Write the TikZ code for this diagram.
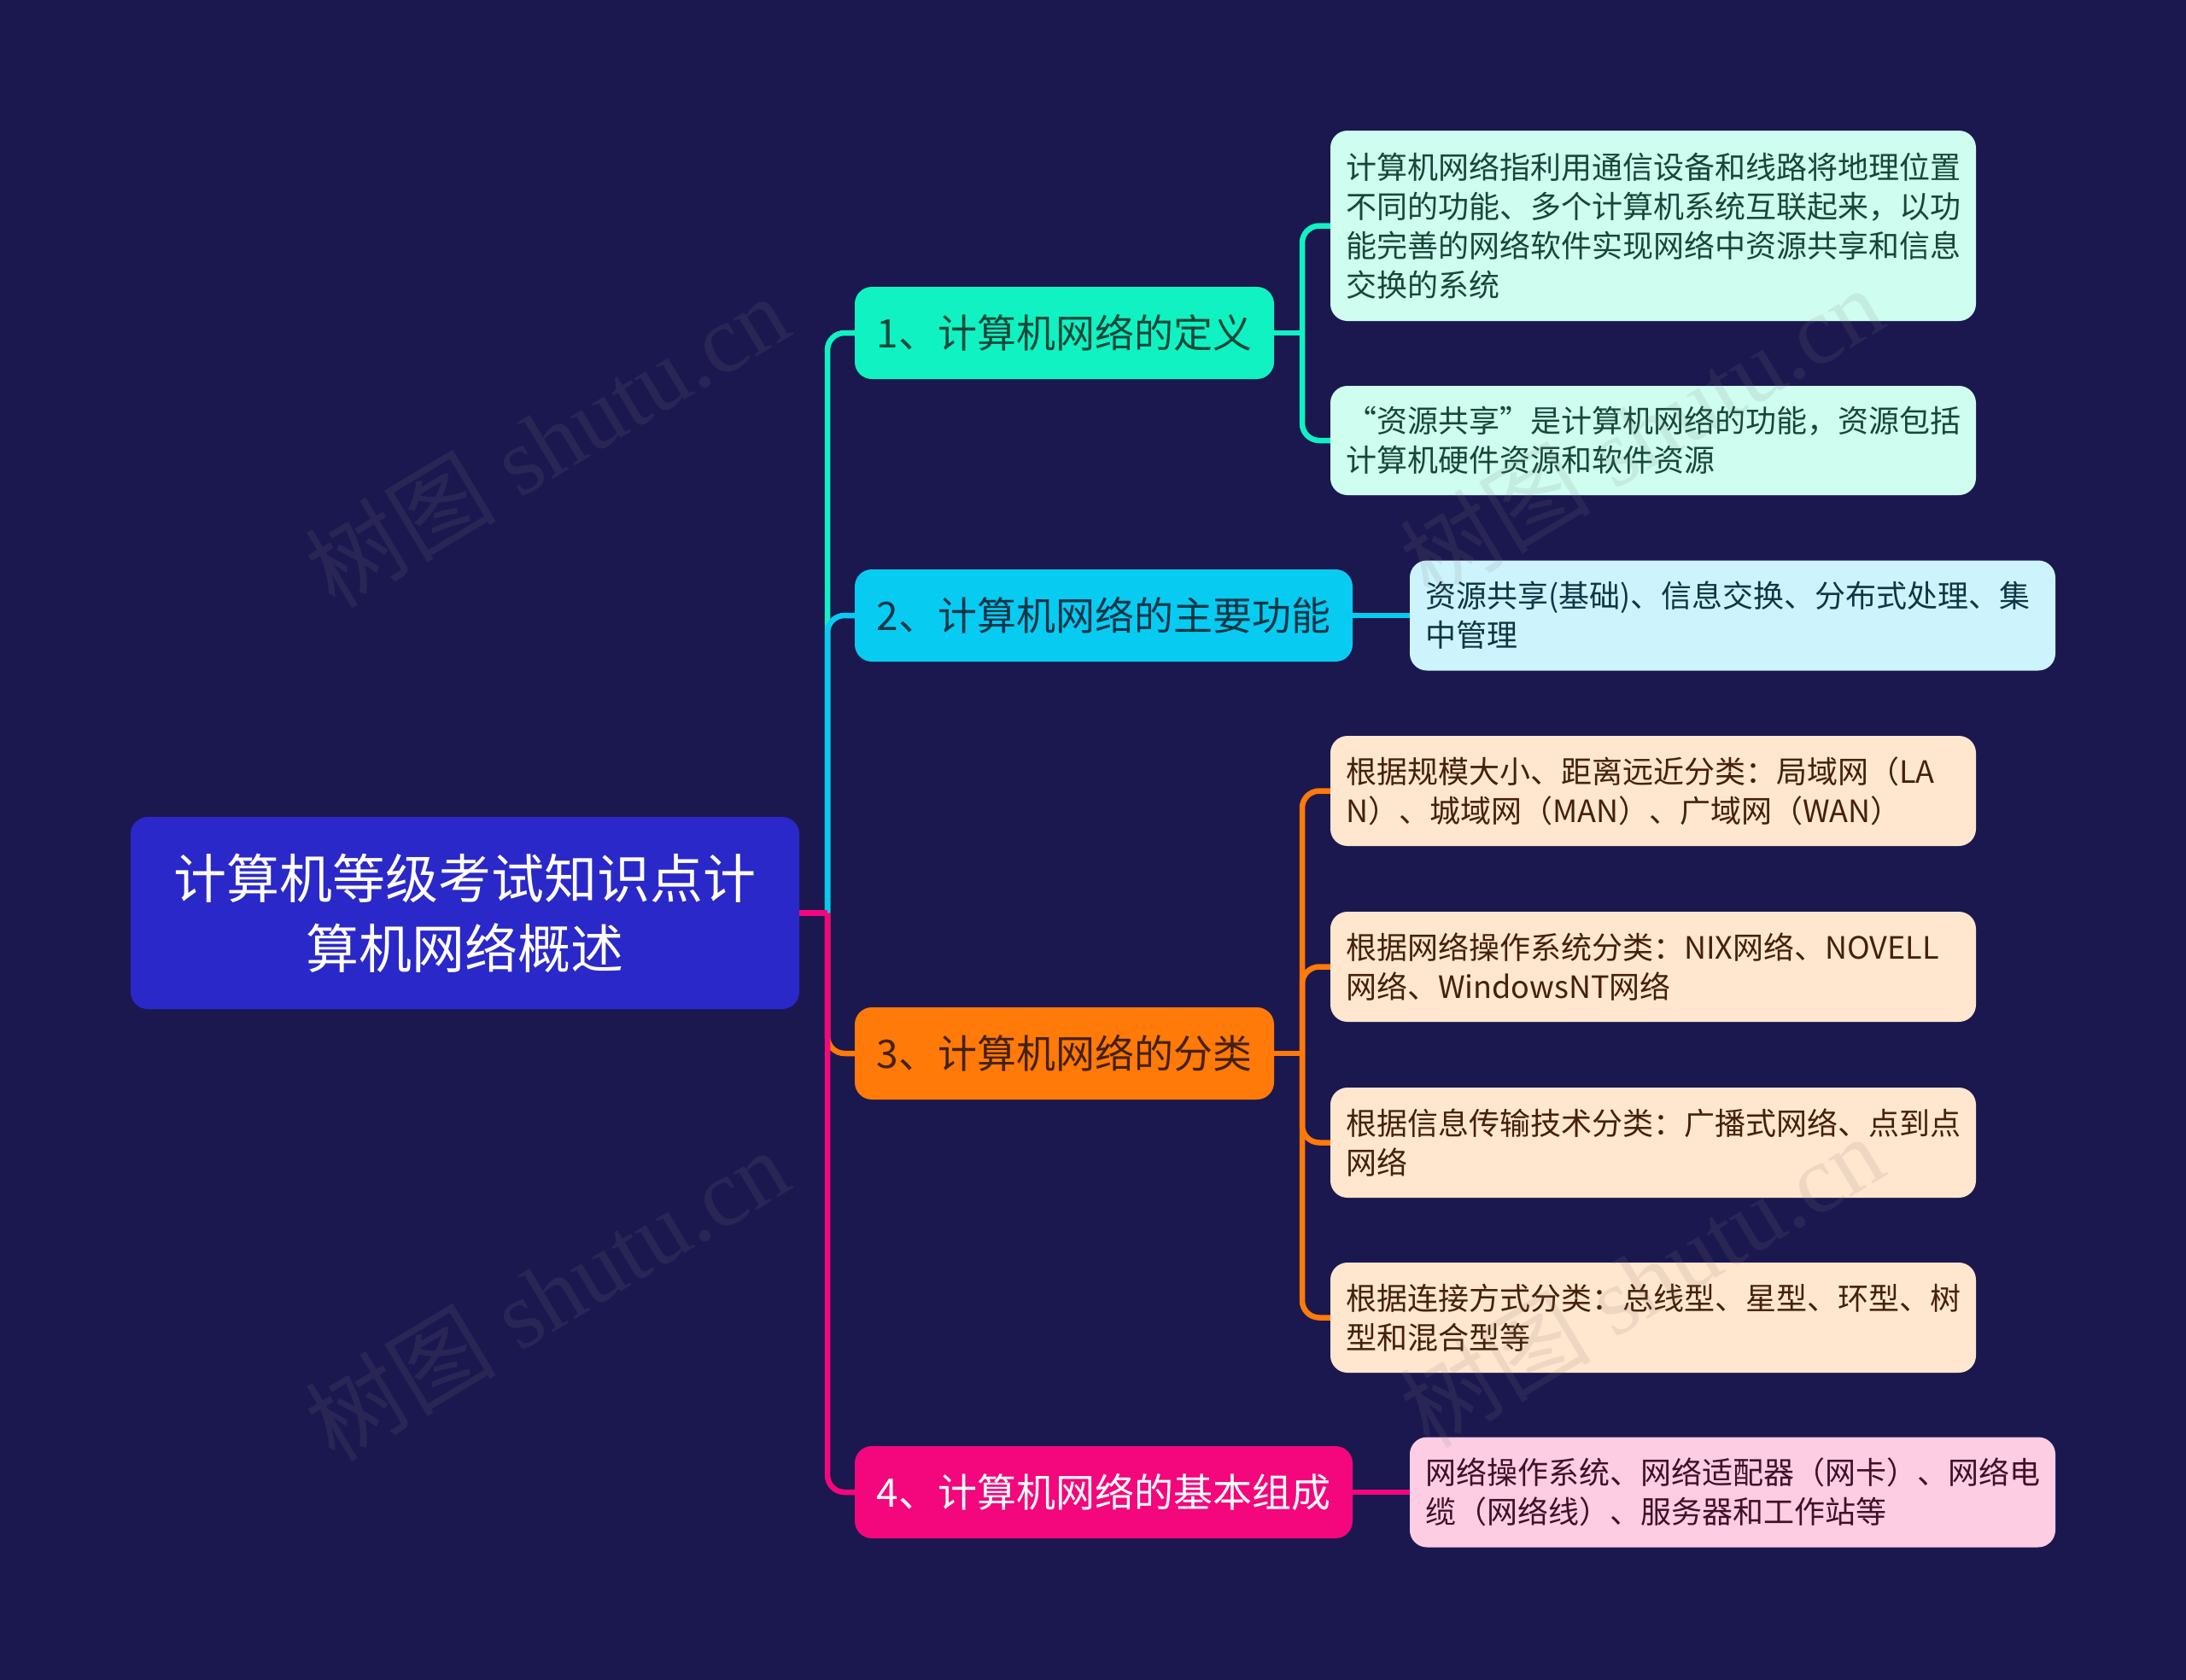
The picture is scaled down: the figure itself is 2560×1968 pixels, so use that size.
\documentclass[tikz,border=0pt]{standalone}
\usepackage{fontspec}
\setmainfont{Noto Sans CJK SC}
\newfontfamily\wmserif{Liberation Serif}
\newfontfamily\wmcjk{Noto Sans CJK SC}
\definecolor{bgc}{HTML}{1B1850}
\definecolor{rootc}{HTML}{2A28C8}
\definecolor{bonec}{HTML}{10F2C2}
\definecolor{btwoc}{HTML}{08CBF2}
\definecolor{bthreec}{HTML}{FF7A08}
\definecolor{bfourc}{HTML}{F4067C}
\definecolor{lonec}{HTML}{CFFDF0}
\definecolor{ltwoc}{HTML}{CDF4FC}
\definecolor{lthreec}{HTML}{FFE6CE}
\definecolor{lfourc}{HTML}{FDCDE4}
\definecolor{tonec}{HTML}{16483A}
\definecolor{ttwoc}{HTML}{0E3646}
\definecolor{tthreec}{HTML}{45200A}
\definecolor{tfourc}{HTML}{40102A}
\begin{document}
\begin{tikzpicture}[x=1pt,y=-1pt,
  box/.style={rectangle, rounded corners=20pt, inner sep=0pt, align=center},
  rootbox/.style={box, fill=rootc, text=white, minimum width=783pt, minimum height=225pt, font=\fontsize{62}{82}\selectfont},
  brbox/.style={box, minimum height=108pt, font=\fontsize{46}{56}\selectfont},
  leafbox/.style={box, text width=720pt, align=left, inner xsep=18pt, minimum height=129pt, font=\fontsize{36}{46}\selectfont},
  con/.style={line width=6.5pt},
  wm/.style={text=gray, opacity=0.14, font=\fontsize{112}{120}\selectfont, inner sep=0pt}
]
\useasboundingbox (0,0) rectangle (2560,1968);
\fill[bgc] (0,0) rectangle (2560,1968);

% nodes
\node[rootbox] (root) at (544.5,1069.5) {计算机等级考试知识点计\\算机网络概述};
\node[brbox, fill=bonec, text=tonec, minimum width=491pt] (b1) at (1246.5,390) {1、计算机网络的定义};
\node[brbox, fill=btwoc, text=ttwoc, minimum width=583pt] (b2) at (1292.5,721) {2、计算机网络的主要功能};
\node[brbox, fill=bthreec, text=tthreec, minimum width=491pt] (b3) at (1246.5,1234) {3、计算机网络的分类};
\node[brbox, fill=bfourc, text=white, minimum width=583pt] (b4) at (1292.5,1748) {4、计算机网络的基本组成};

\node[leafbox, fill=lonec, text=tonec, minimum height=223pt] (l1a) at (1936,264.5) {计算机网络指利用通信设备和线路将地理位置\\不同的功能、多个计算机系统互联起来，以功\\能完善的网络软件实现网络中资源共享和信息\\交换的系统};
\node[leafbox, fill=lonec, text=tonec, minimum height=128pt] (l1b) at (1936,516) {“资源共享”是计算机网络的功能，资源包括\\计算机硬件资源和软件资源};
\node[leafbox, fill=ltwoc, text=ttwoc] (l2) at (2029,721) {资源共享(基础)、信息交换、分布式处理、集\\中管理};
\node[leafbox, fill=lthreec, text=tthreec] (l3a) at (1936,926.5) {根据规模大小、距离远近分类：局域网（LA\\N）、城域网（MAN）、广域网（WAN）};
\node[leafbox, fill=lthreec, text=tthreec] (l3b) at (1936,1132.5) {根据网络操作系统分类：NIX网络、NOVELL\\网络、WindowsNT网络};
\node[leafbox, fill=lthreec, text=tthreec] (l3c) at (1936,1338.5) {根据信息传输技术分类：广播式网络、点到点\\网络};
\node[leafbox, fill=lthreec, text=tthreec] (l3d) at (1936,1543.5) {根据连接方式分类：总线型、星型、环型、树\\型和混合型等};
\node[leafbox, fill=lfourc, text=tfourc] (l4) at (2029,1748) {网络操作系统、网络适配器（网卡）、网络电\\缆（网络线）、服务器和工作站等};

% trunk connectors
\coordinate (trunk) at (969,1069.5);
\draw[con, draw=bonec, rounded corners=20pt] (trunk) |- (b1.west);
\draw[con, draw=btwoc, rounded corners=20pt] (trunk) |- (b2.west);
\draw[con, draw=bthreec, rounded corners=20pt] (trunk) |- (b3.west);
\draw[con, draw=bfourc, rounded corners=20pt] (trunk) |- (b4.west);
\draw[con, draw=bfourc] (root.east) -- (trunk);

% branch 1 leaves
\coordinate (jone) at (1525,390);
\draw[con, draw=bonec] (b1.east) -- (jone);
\draw[con, draw=bonec, rounded corners=20pt] (jone) |- (l1a.west);
\draw[con, draw=bonec, rounded corners=20pt] (jone) |- (l1b.west);
% branch 2 leaf
\draw[con, draw=btwoc] (b2.east) -- (l2.west);
% branch 3 leaves
\coordinate (jthree) at (1525,1234);
\draw[con, draw=bthreec] (b3.east) -- (jthree);
\draw[con, draw=bthreec, rounded corners=20pt] (jthree) |- (l3a.west);
\draw[con, draw=bthreec, rounded corners=20pt] (jthree) |- (l3b.west);
\draw[con, draw=bthreec, rounded corners=20pt] (jthree) |- (l3c.west);
\draw[con, draw=bthreec, rounded corners=20pt] (jthree) |- (l3d.west);
% branch 4 leaf
\draw[con, draw=bfourc] (b4.east) -- (l4.west);

% watermarks
\node[wm, rotate=31] (wma) at (640,516) {\wmcjk 树图\wmserif\ shutu.cn};
\node[wm, rotate=31] (wmb) at (640,1516) {\wmcjk 树图\wmserif\ shutu.cn};
\node[wm, rotate=31] (wmc) at (1922,506) {\wmcjk 树图\wmserif\ shutu.cn};
\node[wm, rotate=31] (wmd) at (1922,1500) {\wmcjk 树图\wmserif\ shutu.cn};
\end{tikzpicture}
\end{document}
